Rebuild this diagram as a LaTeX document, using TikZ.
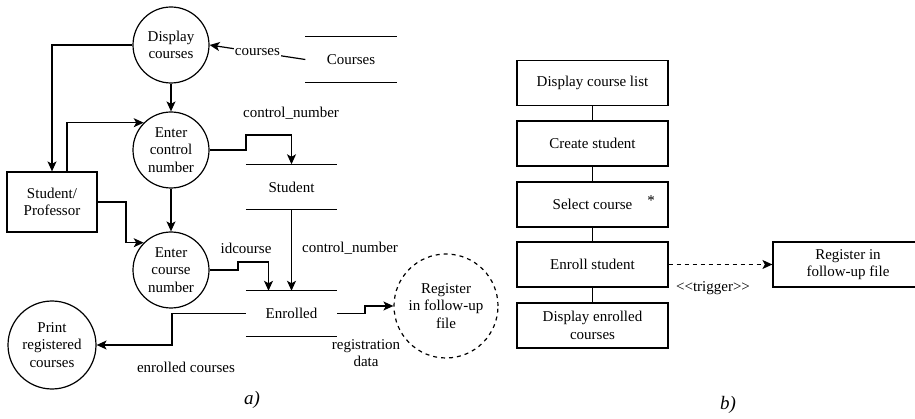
\documentclass[tikz,border=0pt]{standalone}
\usetikzlibrary{arrows.meta,calc}
\usepackage{fontspec}
\setmainfont{Liberation Serif}
\newfontfamily\serifTR{Liberation Serif}
\begin{document}
\begin{tikzpicture}[x=1pt,y=-1pt,
  every node/.style={inner sep=0pt},
  line/.style={line width=1.2pt},
  arr/.style={line width=1.2pt, -{Stealth[length=10pt,width=9pt,inset=2.5pt]}},
  txt/.style={font=\serifTR\fontsize{15}{17.5}\selectfont},
  proc/.style={txt, circle, draw, line width=1.2pt, align=center, minimum size=76pt},
  store/.style={txt, minimum width=91pt, minimum height=45pt},
  box/.style={txt, draw, line width=1.2pt, minimum width=151pt, minimum height=45pt, align=center},
  lbl/.style={txt, fill=white, inner sep=1pt},
  captxt/.style={font=\serifTR\itshape\fontsize{19}{21}\selectfont}
]
\useasboundingbox (0,0) rectangle (915,419);

% ---------- a) ----------
\node[proc] (dc) at (171,45) {Display\\courses};
\node[proc] (ec) at (171,150) {Enter\\control\\number};
\node[proc] (en) at (171,270) {Enter\\course\\number};
\node[proc, minimum size=88pt] (pr) at (52,345) {Print\\registered\\courses};
\node[proc, dash pattern=on 4pt off 4pt, minimum size=104pt] (rg) at (446,306) {Register\\in follow-up\\file};
\node[txt, draw, line width=1.2pt, minimum width=90pt, minimum height=60pt, align=center] (sp) at (52,202) {Student/\\Professor};

\node[store] (cs) at (351,59.5) {Courses};
\draw[line] (cs.north west) -- (cs.north east) (cs.south west) -- (cs.south east);
\node[store] (st) at (291.5,187) {Student};
\draw[line] (st.north west) -- (st.north east) (st.south west) -- (st.south east);
\node[store] (er) at (291.5,313.5) {Enrolled};
\draw[line] (er.north west) -- (er.north east) (er.south west) -- (er.south east);

\draw[arr] (cs.west) -- node[lbl]{courses} (dc.east);
\draw[arr] (dc.south) -- (ec.north);
\draw[arr] (dc.west) -| (sp.north);
\draw[arr] ([xshift=15pt]sp.north) |- (ec.135);
\draw[arr] (ec.east) -- (246,150) -- (246,135) -| (st.north);
\node[txt] (l1) at (291,113) {control\_number};
\draw[arr] (ec.south) -- (en.north);
\draw[arr] (sp.east) -- (126,202) |- (en.135);
\draw[arr] (en.east) -- (238,270) -- (238,262) -| ([xshift=-23pt]er.north);
\node[txt] (l2) at (246,248) {idcourse};
\draw[arr] (st.south) -- (er.north);
\node[txt] (l3) at (350,248) {control\_number};
\draw[arr] (er.west) -- (172,313.5) |- (pr.east);
\node[txt] (l4) at (186,367) {enrolled courses};
\draw[arr] (er.east) -- (365,313.5) |- (rg.west);
\node[txt, align=center] (l5) at (366,353) {registration\\data};

\node[captxt] (ca) at (252,400) {a)};

% ---------- b) ----------
\node[box] (b1) at (592.5,83) {Display course list};
\node[box] (b2) at (592.5,143.5) {Create student};
\node[box] (b3) at (592.5,204.5) {Select course};
\node[txt] (star) at (651,201) {*};
\node[box] (b4) at (592.5,264.5) {Enroll student};
\node[box] (b5) at (592.5,325.5) {Display enrolled\\courses};
\draw[line] (b1.south) -- (b2.north) (b2.south) -- (b3.north) (b3.south) -- (b4.north) (b4.south) -- (b5.north);
\node[box, minimum width=150pt] (r2) at (848,264.5) {Register in\\follow-up file};
\draw[arr, dash pattern=on 4pt off 4pt] (b4.east) -- (r2.west);
\node[txt] (trig) at (713,288) {<\kern0pt<trigger>\kern0pt>};

\node[captxt] (cb) at (728,405) {b)};
\end{tikzpicture}
\end{document}
